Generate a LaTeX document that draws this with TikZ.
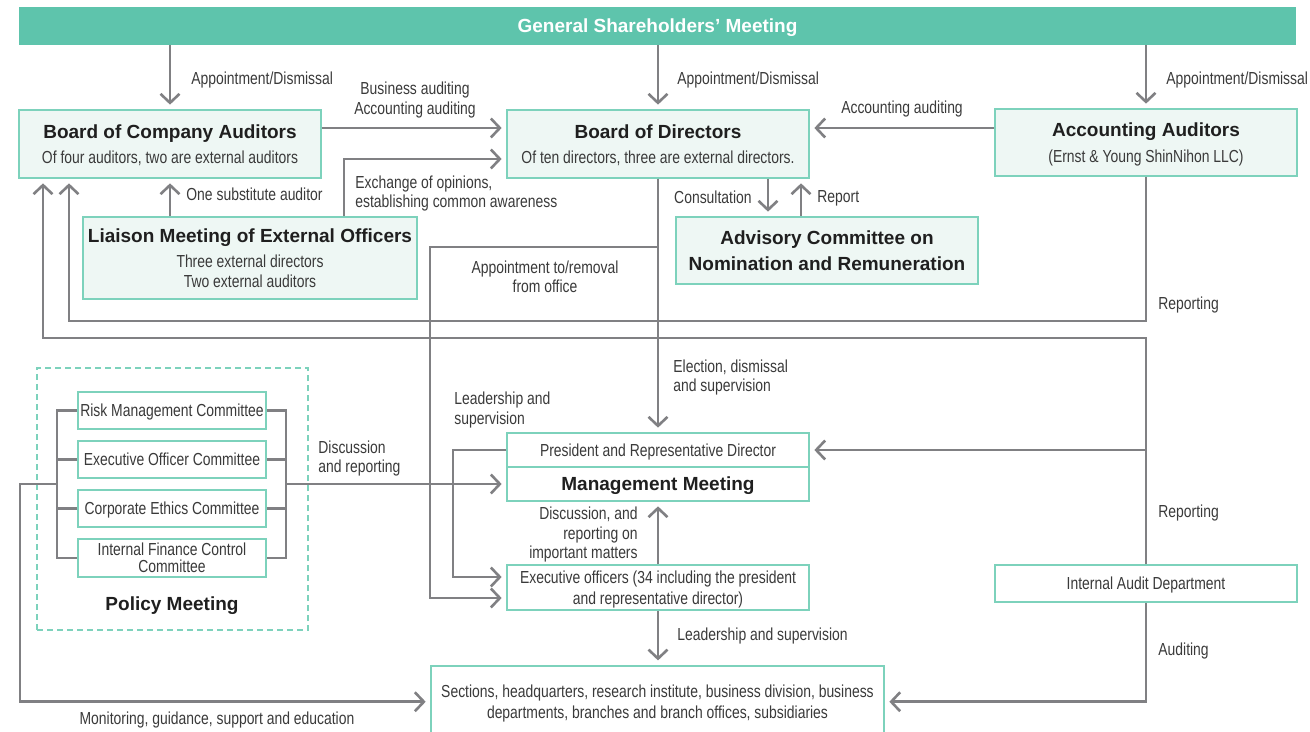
\documentclass[tikz,border=0pt]{standalone}
\usepackage{fontspec}
\setmainfont{Liberation Sans}[FakeStretch=0.8]
\newfontfamily\headfont{Liberation Sans}
\usepackage{tikz}
\usetikzlibrary{arrows.meta}

\definecolor{meetteal}{RGB}{94,196,172}
\definecolor{boxline}{RGB}{125,210,188}
\definecolor{boxfill}{RGB}{238,247,244}
\definecolor{linkgray}{RGB}{128,128,131}
\definecolor{txtgray}{RGB}{58,58,58}

\newcommand{\boxtitle}[1]{{\headfont\bfseries\fontsize{9.5}{11}\selectfont\color{black!88}#1}}

\begin{document}
\begin{tikzpicture}[x=0.5pt, y=-0.5pt,
            every node/.style = {inner sep=0pt, align=center, text=txtgray,
                                 text depth=0pt,
                                 font=\fontsize{8.7}{9.8}\selectfont},
            orgbox/.style = {draw=boxline, line width=0.75pt, fill=boxfill,
                             minimum width=151pt},
            plainbox/.style = {draw=boxline, line width=0.75pt, fill=white,
                               minimum width=151pt},
            cmtbox/.style = {plainbox, minimum width=94pt, minimum height=18.5pt},
            link/.style = {draw=linkgray, line width=1.3pt},
            arr/.style = {link, -{Straight Barb[length=4.5pt,width=9.5pt]},
                          shorten >=2.3pt}]
    \useasboundingbox (0,0) rectangle (1310,732);
    \clip (0,0) rectangle (1310,732);

    % boxes
    \node[fill=meetteal, minimum width=638.5pt, minimum height=19pt] (gsm) at (657.5,26)
        {\color{white}\headfont\bfseries\fontsize{9.5}{11}\selectfont General Shareholders’ Meeting};
    \node[orgbox, minimum height=34pt] (bca) at (170,144)
        {\boxtitle{Board of Company Auditors}\\[2.8pt] Of four auditors, two are external auditors};
    \node[orgbox, minimum height=34pt] (bod) at (658,144)
        {\boxtitle{Board of Directors}\\[2.8pt] Of ten directors, three are external directors.};
    \node[orgbox, minimum height=33.5pt] (acc) at (1146,142.5)
        {\boxtitle{Accounting Auditors}\\[3.5pt] (Ernst \& Young ShinNihon LLC)};
    \node[orgbox, minimum width=167pt, minimum height=41pt] (liaison) at (250,258)
        {\boxtitle{Liaison Meeting of External Officers}\\[2.8pt] Three external directors\\ Two external auditors};
    \node[orgbox, minimum height=33.5pt] (advisory) at (827,250.5)
        {\boxtitle{Advisory Committee on}\\[3pt] \boxtitle{Nomination and Remuneration}};
    \node[plainbox, minimum height=17pt] (pres) at (658,450) {President and Representative Director};
    \node[plainbox, minimum height=17pt] (mm) at (658,484) {\boxtitle{Management Meeting}};
    \node[plainbox, minimum height=22.5pt] (exec) at (658,587.5)
        {Executive officers (34 including the president\\[0.8pt] and representative director)};
    \node[plainbox, minimum height=18.5pt] (iad) at (1146,583.5) {Internal Audit Department};
    \node[plainbox, minimum width=226.5pt, minimum height=36pt, anchor=north] (sections) at (657.5,665)
        {Sections, headquarters, research institute, business division, business\\[0.6pt]
         departments, branches and branch offices, subsidiaries};

    % policy meeting group
    \node[draw=boxline, dash pattern=on 3pt off 2pt, line width=0.6pt,
          minimum width=135.5pt, minimum height=131pt] (policy) at (172.5,499) {};
    \node[cmtbox] (risk) at (172,410.5) {Risk Management Committee};
    \node[cmtbox] (eoc) at (172,459.5) {Executive Officer Committee};
    \node[cmtbox] (ethics) at (172,508.5) {Corporate Ethics Committee};
    \node[cmtbox, minimum height=19pt] (finance) at (172,558) {Internal Finance Control\\[-1.3pt] Committee};
    \node (policytitle) at (172,604) {\boxtitle{Policy Meeting}};

    % turning points
    \coordinate (yaud) at (0,128);
    \coordinate (yexc) at (0,159);
    \coordinate (xexc) at (344,0);
    \coordinate (xcons) at (768,0);
    \coordinate (xrep) at (801,0);
    \coordinate (accturn) at (69,321);
    \coordinate (iadturn) at (43,338);
    \coordinate (apturn) at (430,247);
    \coordinate (xlead) at (453,0);
    \coordinate (ylead) at (0,577);
    \coordinate (yappt) at (0,598);
    \coordinate (lbrk) at (57,0);
    \coordinate (rbrk) at (286,0);
    \coordinate (xmon) at (20,0);

    % connectors
    \draw[arr] (gsm.south -| bca) -- (bca.north);
    \draw[arr] (gsm.south -| bod) -- (bod.north);
    \draw[arr] (gsm.south -| acc) -- (acc.north);
    \draw[arr] (bca.east |- yaud) -- (bod.west |- yaud);
    \draw[arr] (acc.west |- yaud) -- (bod.east |- yaud);
    \draw[arr] (liaison.north -| xexc) |- (bod.west |- yexc);
    \draw[arr] (liaison.north -| bca) -- (bca.south);
    \draw[arr] (bod.south -| xcons) -- (advisory.north -| xcons);
    \draw[arr] (advisory.north -| xrep) -- (bod.south -| xrep);
    \draw[arr] (acc.south) |- (accturn) -- (bca.south -| accturn);
    \draw[arr] (iad.north) |- (iadturn) -- (bca.south -| iadturn);
    \draw[arr] (iad.north |- pres.east) -- (pres.east);
    \draw[arr] (iad.south) |- (sections.east);
    \draw[arr] (bod.south) -- (pres.north);
    \draw[arr] (bod.south) |- (apturn) |- (exec.west |- yappt);
    \draw[arr] (pres.west) -| (xlead |- ylead) -- (exec.west |- ylead);
    \draw[arr] (exec.north) -- (mm.south);
    \draw[arr] (exec.south) -- (exec.south |- sections.north);
    \draw[link] (risk.west) -| (lbrk |- finance.west) -- (finance.west);
    \draw[link] (eoc.west) -- (eoc.west -| lbrk) (ethics.west) -- (ethics.west -| lbrk);
    \draw[link] (risk.east) -| (rbrk |- finance.east) -- (finance.east);
    \draw[link] (eoc.east) -- (eoc.east -| rbrk) (ethics.east) -- (ethics.east -| rbrk);
    \draw[arr] (rbrk |- mm.west) -- (mm.west);
    \draw[arr] (lbrk |- mm.west) -| (xmon |- sections.west) -- (sections.west);

    % labels
    \node[anchor=west] (apbca) at (191,78) {Appointment/Dismissal};
    \node[anchor=west] (apbod) at (677,78) {Appointment/Dismissal};
    \node[anchor=west] (apacc) at (1166,78) {Appointment/Dismissal};
    \node (busaud) at (415,98) {Business auditing\\Accounting auditing};
    \node (accaud) at (902,107) {Accounting auditing};
    \node[anchor=west, align=left] (exchange) at (355,191.5) {Exchange of opinions,\\establishing common awareness};
    \node[anchor=west] (substitute) at (186,194) {One substitute auditor};
    \node[anchor=east] (consult) at (752,197) {Consultation};
    \node[anchor=west] (report) at (817,197) {Report};
    \node (removal) at (545,276.5) {Appointment to/removal\\from office};
    \node[anchor=west] (repacc) at (1158,303) {Reporting};
    \node[anchor=west, align=left] (election) at (673,375.5) {Election, dismissal\\and supervision};
    \node[anchor=west, align=left] (leadpres) at (454,408) {Leadership and\\supervision};
    \node[anchor=west, align=left] (discuss) at (318,456.5) {Discussion\\and reporting};
    \node[anchor=west] (repiad) at (1158,511) {Reporting};
    \node[anchor=east, align=right] (matters) at (638,533) {Discussion, and\\reporting on\\important matters};
    \node[anchor=west] (leadexec) at (677,634) {Leadership and supervision};
    \node[anchor=west] (auditing) at (1158,649) {Auditing};
    \node (monitor) at (217,718) {Monitoring, guidance, support and education};
\end{tikzpicture}
\end{document}
